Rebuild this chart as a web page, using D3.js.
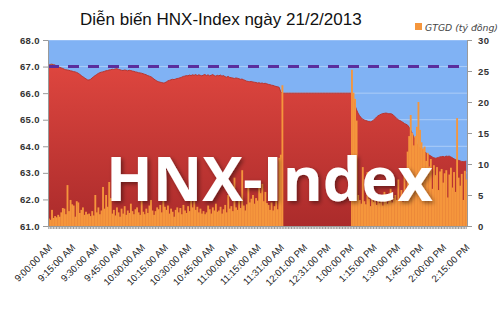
<!DOCTYPE html>
<html>
<head>
<meta charset="utf-8">
<script src="https://cdn.jsdelivr.net/npm/d3@7"></script>
<style>
body { margin: 0; background: #fff; }
svg { display: block; }
</style>
</head>
<body>
<div id="chart"></div>
<script>
// HNX-Index theo phút, 21/2/2013
const hnxMorning = [
  67.05, 67.08, 67.09, 67.07, 67.06, 67.02, 67.00, 66.97, 66.95, 66.93,
  66.90, 66.88, 66.87, 66.86, 66.84, 66.83, 66.81, 66.80, 66.78, 66.75,
  66.71, 66.66, 66.62, 66.58, 66.54, 66.50, 66.49, 66.52, 66.57, 66.62,
  66.66, 66.70, 66.74, 66.77, 66.79, 66.80, 66.82, 66.84, 66.85, 66.87,
  66.88, 66.90, 66.89, 66.91, 66.92, 66.90, 66.88, 66.86, 66.85, 66.87,
  66.86, 66.84, 66.86, 66.85, 66.83, 66.82, 66.80, 66.79, 66.77, 66.76,
  66.75, 66.73, 66.71, 66.69, 66.66, 66.64, 66.62, 66.58, 66.53, 66.49,
  66.45, 66.43, 66.41, 66.40, 66.38, 66.39, 66.42, 66.46, 66.48, 66.50,
  66.52, 66.51, 66.53, 66.55, 66.56, 66.58, 66.60, 66.63, 66.64, 66.66,
  66.65, 66.68, 66.66, 66.69, 66.67, 66.70, 66.66, 66.69, 66.67, 66.65,
  66.68, 66.70, 66.66, 66.69, 66.65, 66.67, 66.70, 66.66, 66.64, 66.67,
  66.65, 66.68, 66.64, 66.66, 66.62, 66.60, 66.63, 66.59, 66.58, 66.57,
  66.55, 66.57, 66.56, 66.54, 66.52, 66.53, 66.50, 66.48, 66.45, 66.44,
  66.43, 66.44, 66.42, 66.41, 66.40, 66.38, 66.39, 66.37, 66.38, 66.36,
  66.37, 66.35, 66.33, 66.32, 66.30, 66.29, 66.27, 66.25, 66.24, 66.22, 66.05
]
const hnxLunch = [
  66.0, 66.0, 66.0, 66.0, 66.0, 66.0, 66.0, 66.0, 66.0, 66.0,
  66.0, 66.0, 66.0, 66.0, 66.0, 66.0, 66.0, 66.0, 66.0, 66.0,
  66.0, 66.0, 66.0, 66.0, 66.0, 66.0, 66.0, 66.0, 66.0, 66.0,
  66.0, 66.0, 66.0, 66.0, 66.0, 66.0, 66.0, 66.0, 66.0, 66.0,
  66.0, 66.0, 66.0, 66.0, 66.0
]
const hnxAfternoon = [
  66.00, 65.80, 65.55, 65.38, 65.25, 65.15, 65.08, 65.02, 64.99, 64.97,
  64.95, 64.93, 64.92, 64.94, 64.98, 65.04, 65.10, 65.15, 65.18, 65.21,
  65.23, 65.24, 65.25, 65.24, 65.22, 65.23, 65.21, 65.17, 65.11, 65.05,
  65.00, 64.97, 64.94, 64.90, 64.86, 64.83, 64.80, 64.72, 64.62, 64.50,
  64.36, 64.22, 64.10, 64.00, 63.93, 63.89, 63.86, 63.80, 63.75, 63.71,
  63.67, 63.64, 63.60, 63.57, 63.55, 63.56, 63.58, 63.60, 63.61, 63.62,
  63.60, 63.63, 63.62, 63.63, 63.60, 63.57, 63.53, 63.50, 63.48, 63.47,
  63.45, 63.43, 63.42, 63.43, 63.44
]

// GTGD (tỷ đồng) theo phút
const volMorning = [
  1.2, 1.0, 2.6, 1.3, 1.6, 1.4, 1.8, 1.5, 2.2, 2.9,
  2.8, 1.9, 6.6, 2.4, 4.2, 3.5, 3.3, 1.5, 4.0, 3.8,
  2.1, 2.6, 3.0, 1.8, 2.3, 1.9, 2.0, 1.6, 2.4, 1.7,
  5.0, 2.2, 3.0, 1.9, 2.5, 6.3, 2.8, 5.0, 3.1, 7.1,
  4.5, 2.0, 2.6, 1.7, 3.0, 2.2, 1.5, 2.8, 2.0, 3.2,
  1.8, 2.5, 2.1, 3.6, 2.4, 1.9, 2.7, 3.0, 2.2, 1.8,
  4.0, 2.3, 1.9, 2.8, 2.1, 3.3, 4.2, 2.5, 1.8, 2.4,
  3.0, 2.7, 3.4, 2.2, 4.7, 3.1, 2.6, 3.3, 2.0, 2.8,
  2.3, 1.5, 2.6, 3.0, 2.2, 2.9, 1.9, 3.4, 2.5, 2.1,
  3.2, 2.4, 7.1, 3.0, 4.0, 2.6, 3.1, 2.2, 2.8, 2.0,
  2.4, 1.9, 2.2, 3.3, 2.7, 2.0, 3.0, 2.5, 3.6, 2.3,
  2.5, 3.1, 2.0, 2.7, 3.4, 2.2, 5.0, 2.8, 3.2, 2.4,
  7.8, 3.0, 2.6, 4.1, 2.9, 9.0, 3.3, 2.5, 3.5, 6.3,
  3.8, 4.4, 5.0, 3.6, 4.5, 4.1, 6.2, 5.3, 6.8, 4.0,
  5.5, 3.7, 3.4, 2.6, 3.8, 2.5, 3.2, 4.0, 2.7, 11.0, 11.5
]
const volLunch = [
  22.7, 0, 0, 0, 0, 0, 0, 0, 0, 0,
  0, 0, 0, 0, 0, 0, 0, 0, 0, 0,
  0, 0, 0, 0, 0, 0, 0, 0, 0, 0,
  0, 0, 0, 0, 0, 0, 0, 0, 0, 0,
  0, 0, 0, 0, 0
]
const volAfternoon = [
  25.2, 21.5, 20.5, 17.0, 5.0, 4.2, 3.6, 9.5, 4.0, 3.5,
  8.7, 4.4, 3.2, 4.6, 3.9, 5.2, 3.4, 4.1, 3.7, 4.8,
  3.3, 5.5, 4.0, 3.6, 4.3, 6.0, 3.8, 4.5, 5.0, 4.2,
  7.5, 4.4, 5.8, 3.9, 8.2, 5.1, 12.0, 14.5, 17.9, 15.0,
  13.0, 14.5, 16.0, 20.0, 15.5, 13.5, 12.5, 12.8, 10.5, 11.8,
  9.6, 10.8, 6.0, 9.8, 8.2, 9.5, 5.8, 8.8, 9.2, 7.0,
  8.5, 9.0, 4.6, 8.3, 9.4, 6.2, 8.7, 5.5, 17.4, 7.8,
  6.5, 8.4, 4.2, 8.9, 7.5
]

const timeLabels = ["9:00:00 AM", "9:15:00 AM", "9:30:00 AM", "9:45:00 AM", "10:00:00 AM",
  "10:15:00 AM", "10:30:00 AM", "10:45:00 AM", "11:00:00 AM", "11:15:00 AM", "11:31:00 AM",
  "12:01:00 PM", "12:31:00 PM", "1:00:00 PM", "1:15:00 PM", "1:30:00 PM", "1:45:00 PM",
  "2:00:00 PM", "2:15:00 PM"]
const labelEvery = 15
const leftTicks = [61, 62, 63, 64, 65, 66, 67, 68]
const rightTicks = [0, 5, 10, 15, 20, 25, 30]
const refIndex = 67.0

const hnx = hnxMorning.concat(hnxLunch, hnxAfternoon)
const vol = volMorning.concat(volLunch, volAfternoon)

var width = 500
var height = 313
const plot = { left: 48, right: 467, top: 40, bottom: 226 }

const svg = d3.select('#chart')
    .append('svg')
    .attr('width', width)
    .attr('height', height)
    .style('font-family', "'DejaVu Sans', Verdana, sans-serif")

const defs = svg.append('defs')
const grad = defs.append('linearGradient')
    .attr('id', 'redGrad')
    .attr('gradientUnits', 'userSpaceOnUse')
    .attr('x1', 0).attr('y1', plot.top)
    .attr('x2', 0).attr('y2', plot.bottom)
grad.append('stop').attr('offset', '0%').attr('stop-color', '#e64a42')
grad.append('stop').attr('offset', '100%').attr('stop-color', '#ab2b2b')

const shadow = defs.append('filter').attr('id', 'shadow')
    .attr('x', '-10%').attr('y', '-10%').attr('width', '130%').attr('height', '140%')
shadow.append('feDropShadow')
    .attr('dx', 2).attr('dy', 2).attr('stdDeviation', 2)
    .attr('flood-color', '#000').attr('flood-opacity', 0.45)

const x = d3.scaleBand()
    .domain(d3.range(hnx.length))
    .range([plot.left, plot.right])
const cx = i => x(i) + x.bandwidth() / 2
const yL = d3.scaleLinear().domain([61, 68]).range([plot.bottom, plot.top])
const yR = d3.scaleLinear().domain([0, 30]).range([plot.bottom, plot.top])

// nền vùng vẽ
svg.append('rect')
    .attr('x', plot.left).attr('y', plot.top)
    .attr('width', plot.right - plot.left).attr('height', plot.bottom - plot.top)
    .attr('fill', '#80b2f4')

svg.append('g').selectAll('line')
    .data(leftTicks)
    .join('line')
    .attr('x1', plot.left).attr('x2', plot.right)
    .attr('y1', d => yL(d)).attr('y2', d => yL(d))
    .attr('stroke', '#fff').attr('stroke-opacity', 0.35)

// vùng chỉ số
const area = d3.area()
    .x((d, i) => cx(i))
    .y0(yL(61))
    .y1(d => yL(d))
svg.append('path')
    .datum(hnx)
    .attr('d', area)
    .attr('fill', 'url(#redGrad)')

svg.append('path')
    .datum(hnx)
    .attr('d', d3.area().x((d, i) => cx(i)).y0(yL(refIndex)).y1(d => yL(Math.max(d, refIndex))))
    .attr('fill', '#a9cc5c')

svg.append('path')
    .datum(hnx)
    .attr('d', d3.line().x((d, i) => cx(i)).y(d => yL(d)))
    .attr('fill', 'none')
    .attr('stroke', '#b8352f')
    .attr('stroke-width', 1)

// GTGD
svg.append('g').selectAll('rect')
    .data(vol)
    .join('rect')
    .attr('x', (d, i) => x(i))
    .attr('width', x.bandwidth() + 0.3)
    .attr('y', d => yR(d))
    .attr('height', d => yR(0) - yR(d))
    .attr('fill', '#f5963c')

svg.append('line')
    .attr('x1', plot.left).attr('x2', plot.right)
    .attr('y1', yL(refIndex)).attr('y2', yL(refIndex))
    .attr('stroke', '#5a2d9c')
    .attr('stroke-width', 3)
    .attr('stroke-dasharray', '11,9')

// chữ chìm
svg.append('text')
    .attr('x', 106).attr('y', 201)
    .attr('fill', '#fff')
    .attr('font-family', "'Open Sans', sans-serif")
    .attr('font-weight', 700)
    .attr('font-size', '61px')
    .attr('filter', 'url(#shadow)')
    .text('HNX-Index')

// trục
function styleAxis(g) {
    g.selectAll('path.domain').attr('stroke', '#9a9a9a')
    g.selectAll('.tick line').attr('stroke', '#9a9a9a')
    g.selectAll('text').attr('fill', '#333')
}

svg.append('g')
    .attr('transform', 'translate(' + plot.left + ',0)')
    .call(d3.axisLeft(yL).tickValues(leftTicks).tickFormat(d3.format('.1f')).tickSize(5).tickSizeOuter(0).tickPadding(3))
    .call(styleAxis)
    .call(g => g.selectAll('text').attr('font-size', '9.5px').attr('font-weight', 'bold').attr('letter-spacing', '0.4px'))

svg.append('g')
    .attr('transform', 'translate(' + plot.right + ',0)')
    .call(d3.axisRight(yR).tickValues(rightTicks).tickSize(5).tickSizeOuter(0).tickPadding(6))
    .call(styleAxis)
    .call(g => g.selectAll('text').attr('font-size', '9.5px').attr('font-weight', 'bold').attr('letter-spacing', '0.4px'))

svg.append('g')
    .attr('transform', 'translate(0,' + plot.bottom + ')')
    .call(d3.axisBottom(x).tickValues(x.domain()).tickFormat('').tickSize(3).tickSizeOuter(0))
    .call(styleAxis)

svg.append('g')
    .attr('transform', 'translate(0,' + plot.bottom + ')')
    .call(d3.axisBottom(x).tickValues(d3.range(0, hnx.length, labelEvery)).tickFormat(i => timeLabels[i / labelEvery]).tickSize(0))
    .call(g => g.select('path.domain').remove())
    .call(g => g.selectAll('text')
        .attr('y', null).attr('dy', null)
        .attr('text-anchor', 'end')
        .attr('transform', 'translate(4,22) rotate(-45)')
        .attr('font-size', '9.6px')
        .attr('fill', '#222'))

// tiêu đề và chú giải
svg.append('text')
    .attr('x', 80).attr('y', 25)
    .attr('font-family', "'Liberation Sans', Arial, sans-serif")
    .attr('font-size', '17px')
    .attr('fill', '#111')
    .text('Diễn biến HNX-Index ngày 21/2/2013')

svg.append('rect')
    .attr('x', 415).attr('y', 23).attr('width', 7).attr('height', 7)
    .attr('fill', '#f5963c')
svg.append('text')
    .attr('x', 425).attr('y', 30.5)
    .attr('font-size', '9.3px')
    .attr('font-style', 'italic')
    .attr('fill', '#444')
    .text('GTGD (tỷ đồng)')
</script>
</body>
</html>
